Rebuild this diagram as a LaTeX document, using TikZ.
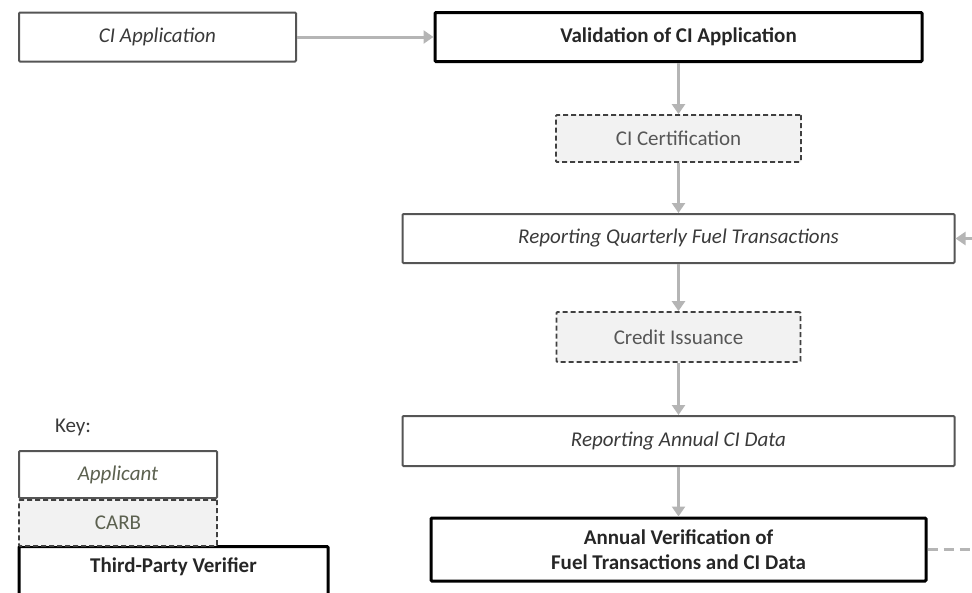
\documentclass[tikz,border=0pt]{standalone}
\usepackage{fontspec}
\setmainfont{Carlito}
\usetikzlibrary{arrows.meta}
\definecolor{arrgray}{HTML}{B5B5B5}
\definecolor{boxgray}{HTML}{555555}
\definecolor{fillgray}{HTML}{F2F2F2}
\definecolor{txtgray}{HTML}{3A3A3A}
\definecolor{keytxt}{HTML}{5C6150}
\tikzset{
  basebox/.style={rectangle, inner sep=0pt, font=\fontsize{21}{25}\selectfont},
  appbox/.style={basebox, draw=boxgray, line width=2pt, rounded corners=1pt, text=txtgray, font=\fontsize{21}{25}\selectfont\itshape},
  carbbox/.style={basebox, draw=black!75, line width=1.8pt, dash pattern=on 5pt off 3pt, fill=fillgray, rounded corners=1pt, text=txtgray!85},
  tpvbox/.style={basebox, draw=black, line width=3pt, rounded corners=1pt, font=\fontsize{21}{25}\selectfont\bfseries, text=black!85},
  flow/.style={draw=arrgray, line width=3pt, -{Triangle[length=10pt,width=13pt]}},
}
\begin{document}
\begin{tikzpicture}[x=1pt,y=-1pt]
\useasboundingbox (0,0) rectangle (972,592);
\clip (0,0) rectangle (972,592);
% main flow
\node[appbox, minimum width=277pt, minimum height=49pt] (app) at (157.5,37) {CI Application};
\node[tpvbox, minimum width=487pt, minimum height=49pt] (val) at (678.5,37) {Validation of CI Application};
\node[carbbox, minimum width=245pt, minimum height=47pt] (cert) at (678.5,138.5) {CI Certification};
\node[appbox, minimum width=552pt, minimum height=49pt] (rq) at (678.5,238.5) {Reporting Quarterly Fuel Transactions};
\node[carbbox, minimum width=244pt, minimum height=50pt] (cred) at (678.5,337) {Credit Issuance};
\node[appbox, minimum width=552pt, minimum height=50pt] (ra) at (678.5,441) {Reporting Annual CI Data};
\node[tpvbox, minimum width=495pt, minimum height=63pt, align=center] (av) at (678.5,549.5) {Annual Verification of\\Fuel Transactions and CI Data};
% off-page ends
\coordinate (rin) at (985,238.5);
\coordinate (rout) at (985,549.5);
% connectors
\draw[flow] (app.east) -- (val.west);
\draw[flow] (val.south) -- (cert.north);
\draw[flow] (cert.south) -- (rq.north);
\draw[flow] (rq.south) -- (cred.north);
\draw[flow] (cred.south) -- (ra.north);
\draw[flow] (ra.south) -- (av.north);
\draw[flow] (rin) -- (rq.east);
\draw[draw=arrgray, line width=3pt, dash pattern=on 10pt off 6pt] (av.east) -- (rout);
% key
\node[font=\fontsize{21}{25}\selectfont, text=txtgray] (key) at (73,427) {Key:};
\node[tpvbox, minimum width=309pt, minimum height=52pt, anchor=north, text depth=14pt] (tpv) at (173.5,545) {Third-Party Verifier};
\node[appbox, minimum width=198pt, minimum height=47pt, anchor=south, text=keytxt] (kapp) at (118,499) {Applicant};
\node[carbbox, minimum width=198pt, minimum height=46pt, anchor=north, text=keytxt] (kcarb) at (118,499) {CARB};
\end{tikzpicture}
\end{document}
